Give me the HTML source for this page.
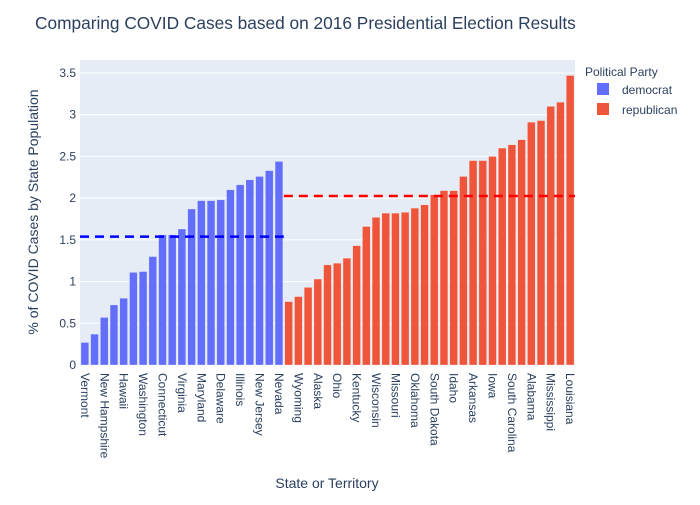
<!DOCTYPE html>
<html><head><meta charset="utf-8"><style>
body{margin:0;background:#fff;font-family:"Liberation Sans",Arial,sans-serif}
svg text{font-family:"Liberation Sans",Arial,sans-serif}
</style></head><body>
<svg id="c" width="700" height="500">
<rect x="0" y="0" width="700" height="500" fill="#fff"/>
<text x="35" y="29" font-size="17.3" fill="#2a3f5f">Comparing COVID Cases based on 2016 Presidential Election Results</text>
<rect x="80" y="60" width="495" height="305" fill="#e5ecf6"/>
<g id="grid"></g><g id="bars"></g><g id="xt"></g><g id="yt"></g><g id="means"></g>
<text transform="translate(38,212) rotate(-90)" text-anchor="middle" font-size="14" fill="#2a3f5f">% of COVID Cases by State Population</text>
<text x="327" y="488" text-anchor="middle" font-size="14" fill="#2a3f5f">State or Territory</text>
<text x="585" y="76" font-size="12" fill="#2a3f5f">Political Party</text>
<g><rect x="597" y="83" width="12" height="12" fill="#636efa"/><text x="622" y="94" font-size="12" fill="#2a3f5f">democrat</text></g>
<g><rect x="597" y="103" width="12" height="12" fill="#ef553b"/><text x="622" y="114" font-size="12" fill="#2a3f5f">republican</text></g>
</svg>
<script>
const demStates=["Vermont","Maine","New Hampshire","Oregon","Hawaii","California","Washington","Colorado","Connecticut","New Mexico","Virginia","Massachusetts","Maryland","Minnesota","Delaware","New York","Illinois","Rhode Island","New Jersey","Michigan","Nevada"];
const demValues=[0.27,0.37,0.57,0.72,0.80,1.11,1.12,1.30,1.56,1.56,1.63,1.87,1.97,1.97,1.98,2.10,2.16,2.22,2.26,2.33,2.44];
const repStates=["West Virginia","Wyoming","Montana","Alaska","Pennsylvania","Ohio","Indiana","Kentucky","North Carolina","Wisconsin","Kansas","Missouri","Texas","Oklahoma","Georgia","South Dakota","North Dakota","Idaho","Nebraska","Arkansas","Utah","Iowa","Tennessee","South Carolina","Arizona","Alabama","Florida","Mississippi","Florida Keys","Louisiana"];
const repValues=[0.76,0.82,0.93,1.03,1.20,1.22,1.28,1.43,1.66,1.77,1.82,1.82,1.83,1.88,1.92,2.04,2.09,2.09,2.26,2.45,2.45,2.50,2.60,2.64,2.70,2.91,2.93,3.10,3.15,3.47];
const yTicks=[0,0.5,1,1.5,2,2.5,3,3.5];
const NS="http://www.w3.org/2000/svg";
const X0=80,X1=575,Y0=365,YMAX=3.5,YTOP=73;
const cats=demStates.concat(repStates);
const step=(X1-X0)/cats.length;
const xs=i=>X0+step*(i+0.5);
const ys=v=>Y0-v*(Y0-YTOP)/YMAX;
function mk(t,a,p){const e=document.createElementNS(NS,t);for(const k in a)e.setAttribute(k,a[k]);p.appendChild(e);return e;}
const g=document.getElementById('grid'),b=document.getElementById('bars'),xt=document.getElementById('xt'),yt=document.getElementById('yt'),mg=document.getElementById('means');
yTicks.forEach(v=>{
  const l=mk('line',{x1:X0,x2:X1,y1:ys(v),y2:ys(v),stroke:'#fff','stroke-width':v===0?2:1},g);
  
  
  const t=mk('text',{x:X0-4,y:ys(v)+4,'text-anchor':'end','font-size':12,fill:'#2a3f5f'},yt);
  t.textContent=String(v);
  
  
});
function drawBars(vals,offset,col,nm){
  vals.forEach((v,j)=>{
    const i=j+offset;
    const r=mk('rect',{x:xs(i)-step*0.4,y:ys(v),width:step*0.8,height:Y0-ys(v),fill:col,stroke:'rgba(255,255,255,0.5)','stroke-width':0.5},b);
    
    
  });
}
drawBars(demValues,0,'#636efa','democrat');
drawBars(repValues,demValues.length,'#ef553b','republican');
cats.forEach((c,i)=>{
  if(i%2)return;
  const x=xs(i);
  const t=mk('text',{transform:'translate('+(x-4)+','+(Y0+8)+') rotate(90)','font-size':12,fill:'#2a3f5f'},xt);
  t.textContent=c;
  
  
});
const mean=a=>a.reduce((s,v)=>s+v,0)/a.length;
const dm=mk('line',{x1:X0,x2:X0+step*demValues.length,y1:ys(mean(demValues)),y2:ys(mean(demValues)),stroke:'#0000ff','stroke-width':2.5,'stroke-dasharray':'9,6'},mg);


const rm=mk('line',{x1:X0+step*demValues.length,x2:X1,y1:ys(mean(repValues)),y2:ys(mean(repValues)),stroke:'#ff0000','stroke-width':2.5,'stroke-dasharray':'9,6'},mg);


</script>
</body></html>
